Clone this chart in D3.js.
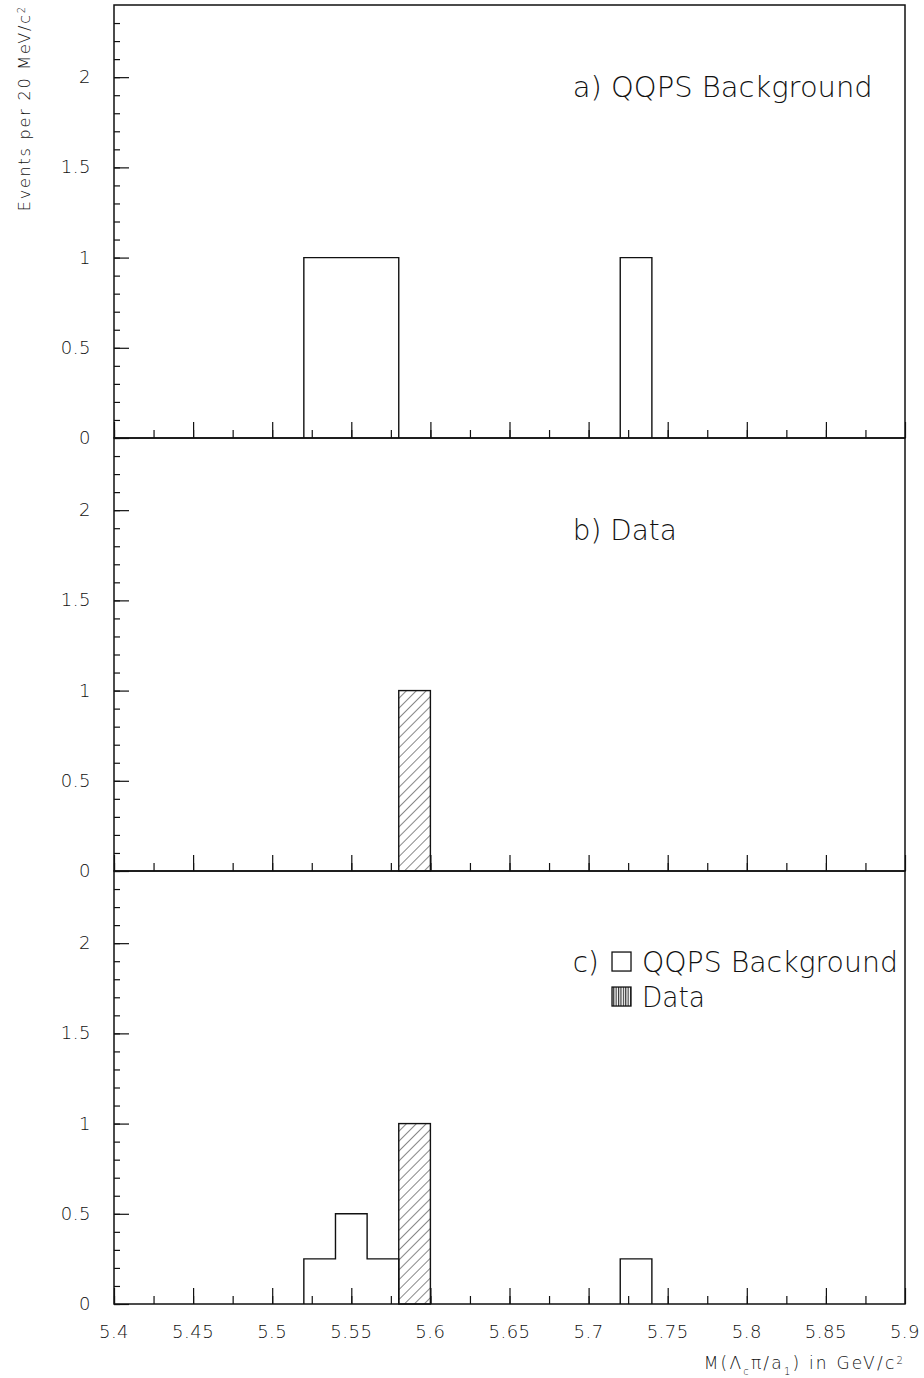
<!DOCTYPE html>
<html>
<head>
<meta charset="utf-8">
<script src="https://cdn.jsdelivr.net/npm/d3@7"></script>
<style>
  body { margin: 0; background: #fff; }
  text { font-family: "DejaVu Sans", sans-serif; fill: #111; }
</style>
</head>
<body>
<div id="chart"></div>
<script>
var svgWidth = 924;
var svgHeight = 1378;

var margin = { top: 5, right: 19, bottom: 74, left: 114 };
var width = svgWidth - margin.left - margin.right;
var panelHeight = (svgHeight - margin.top - margin.bottom) / 3;

// histogram contents (bin lower edges, 20 MeV bins)
var binWidth = 0.02;
var bgBinsA = [5.52, 5.54, 5.56, 5.72];
var bgValsA = [1, 1, 1, 1];
var dataBins = [5.58];
var dataVals = [1];
var bgBinsC = [5.52, 5.54, 5.56, 5.72];
var bgValsC = [0.25, 0.5, 0.25, 0.25];

var xTickLabels = [5.4, 5.45, 5.5, 5.55, 5.6, 5.65, 5.7, 5.75, 5.8, 5.85, 5.9];
var yTickLabels = [0, 0.5, 1, 1.5, 2];

var panels = [
  { label: "a) QQPS Background", labelLen: 300, labelY: 1.89, bgBins: bgBinsA, bgVals: bgValsA, dBins: [], dVals: [] },
  { label: "b) Data", labelLen: 104, labelY: 1.835, bgBins: [], bgVals: [], dBins: dataBins, dVals: dataVals },
  { label: "c)", labelLen: 26, labelY: 1.84, bgBins: bgBinsC, bgVals: bgValsC, dBins: dataBins, dVals: dataVals, legend: true }
];

var svg = d3.select("#chart")
  .append("svg")
  .attr("width", svgWidth)
  .attr("height", svgHeight);

var defs = svg.append("defs");
defs.append("pattern")
  .attr("id", "diag")
  .attr("patternUnits", "userSpaceOnUse")
  .attr("width", 7).attr("height", 7)
  .attr("patternTransform", "rotate(45)")
  .append("line")
  .attr("x1", 0).attr("y1", 0).attr("x2", 0).attr("y2", 7)
  .attr("stroke", "#111").attr("stroke-width", 1);
defs.append("pattern")
  .attr("id", "vert")
  .attr("patternUnits", "userSpaceOnUse")
  .attr("width", 2.4).attr("height", 10)
  .append("line")
  .attr("x1", 0.6).attr("y1", 0).attr("x2", 0.6).attr("y2", 10)
  .attr("stroke", "#111").attr("stroke-width", 1);

var xScale = d3.scaleLinear().domain([5.4, 5.9]).range([0, width]);
var yScale = d3.scaleLinear().domain([0, 2.4]).range([panelHeight, 0]);

// step outline from sparse bins, dropping to zero between separate groups
function histPoints(bins, vals) {
  var pts = [];
  bins.forEach(function(b, i) {
    var prevEnd = i > 0 ? bins[i - 1] + binWidth : null;
    if (prevEnd === null || Math.abs(prevEnd - b) > 1e-9) {
      if (pts.length) pts.push(null);
      pts.push([b, 0]);
    }
    pts.push([b, vals[i]]);
    pts.push([b + binWidth, vals[i]]);
    var next = bins[i + 1];
    if (next === undefined || Math.abs(next - (b + binWidth)) > 1e-9) {
      pts.push([b + binWidth, 0]);
    }
  });
  return pts;
}

var line = d3.line()
  .defined(d => d !== null)
  .x(d => xScale(d[0]))
  .y(d => yScale(d[1]));

var labelX = xScale(5.69);
var legendBoxX = xScale(5.7148);
var legendTextX = xScale(5.7337);

panels.forEach(function(p, idx) {
  var g = svg.append("g")
    .attr("transform", `translate(${margin.left}, ${margin.top + idx * panelHeight})`);

  // background outline
  if (p.bgBins.length) {
    g.append("path")
      .attr("d", line(histPoints(p.bgBins, p.bgVals)))
      .attr("fill", "none")
      .attr("stroke", "#111")
      .attr("stroke-width", 1.4);
  }

  // data bars, hatched
  g.selectAll(".data").data(p.dBins).enter()
    .append("rect")
    .attr("x", d => xScale(d))
    .attr("y", (d, i) => yScale(p.dVals[i]))
    .attr("width", d => xScale(d + binWidth) - xScale(d))
    .attr("height", (d, i) => yScale(0) - yScale(p.dVals[i]))
    .attr("fill", "url(#diag)")
    .attr("stroke", "#111")
    .attr("stroke-width", 1.4);

  // y axis with minor ticks
  var yMajor = d3.axisRight(yScale).tickValues(yTickLabels).tickSize(15).tickFormat("");
  var yMinor = d3.axisRight(yScale).tickValues(d3.range(0, 24).map(v => v / 10)).tickSize(6).tickFormat("");
  [yMinor, yMajor].forEach(function(ax) {
    var a = g.append("g").call(ax);
    a.select(".domain").remove();
    a.selectAll("line").attr("stroke", "#111").attr("stroke-width", 1.2);
  });
  g.selectAll(".ylab").data(yTickLabels).enter()
    .append("text")
    .attr("x", -23)
    .attr("y", d => yScale(d) + 6)
    .attr("text-anchor", "end")
    .attr("font-size", 18)
    .attr("font-weight", 300)
    .attr("letter-spacing", 0.5)
    .text(d => d);

  // x axis ticks
  var xMajor = d3.axisTop(xScale).tickValues(xTickLabels).tickSize(16).tickFormat("");
  var xMinor = d3.axisTop(xScale).tickValues(d3.range(0, 20).map(v => 5.4 + v * 0.025)).tickSize(8).tickFormat("");
  [xMinor, xMajor].forEach(function(ax) {
    var a = g.append("g").attr("transform", `translate(0, ${panelHeight})`).call(ax);
    a.select(".domain").remove();
    a.selectAll("line").attr("stroke", "#111").attr("stroke-width", 1.2);
  });

  // frame
  g.append("rect")
    .attr("x", 0).attr("y", 0)
    .attr("width", width).attr("height", panelHeight)
    .attr("fill", "none")
    .attr("stroke", "#111")
    .attr("stroke-width", 1.5);

  // panel label
  g.append("text")
    .attr("x", labelX)
    .attr("y", yScale(p.labelY))
    .attr("font-size", 29)
    .attr("font-weight", 300)
    .attr("textLength", p.labelLen).attr("lengthAdjust", "spacingAndGlyphs")
    .text(p.label);

  if (p.legend) {
    g.append("rect")
      .attr("x", legendBoxX).attr("y", yScale(p.labelY) - 20)
      .attr("width", 19).attr("height", 19)
      .attr("fill", "none").attr("stroke", "#111").attr("stroke-width", 1.3);
    g.append("text")
      .attr("x", legendTextX)
      .attr("y", yScale(p.labelY))
      .attr("font-size", 29)
      .attr("font-weight", 300)
      .attr("textLength", 256).attr("lengthAdjust", "spacingAndGlyphs")
      .text("QQPS Background");
    g.append("rect")
      .attr("x", legendBoxX).attr("y", yScale(1.646) - 20)
      .attr("width", 19).attr("height", 19)
      .attr("fill", "url(#vert)").attr("stroke", "#111").attr("stroke-width", 1.3);
    g.append("text")
      .attr("x", legendTextX)
      .attr("y", yScale(1.646))
      .attr("font-size", 29)
      .attr("font-weight", 300)
      .attr("textLength", 63).attr("lengthAdjust", "spacingAndGlyphs")
      .text("Data");
  }

  // x tick labels on the bottom panel
  if (idx === 2) {
    g.selectAll(".xlab").data(xTickLabels).enter()
      .append("text")
      .attr("x", d => xScale(d))
      .attr("y", panelHeight + 34)
      .attr("text-anchor", "middle")
      .attr("font-size", 18)
      .attr("font-weight", 300)
      .attr("letter-spacing", 0.5)
      .text(d => d);
  }
});

// axis titles
var yTitle = svg.append("text")
  .attr("transform", "translate(30, 5) rotate(-90)")
  .attr("text-anchor", "end")
  .attr("font-size", 16)
  .attr("font-weight", 300)
  .attr("letter-spacing", 1.8);
yTitle.append("tspan").text("Events per 20 MeV/c");
yTitle.append("tspan").attr("baseline-shift", "super").attr("font-size", 10).text("2");

var xTitle = svg.append("text")
  .attr("x", margin.left + width)
  .attr("y", 1369)
  .attr("text-anchor", "end")
  .attr("font-size", 17)
  .attr("font-weight", 300)
  .attr("letter-spacing", 2.2);
xTitle.append("tspan").text("M(Λ");
xTitle.append("tspan").attr("baseline-shift", "sub").attr("font-size", 10).text("c");
xTitle.append("tspan").text("π/a");
xTitle.append("tspan").attr("baseline-shift", "sub").attr("font-size", 10).text("1");
xTitle.append("tspan").text(") in GeV/c");
xTitle.append("tspan").attr("baseline-shift", "super").attr("font-size", 10).text("2");
</script>
</body>
</html>
